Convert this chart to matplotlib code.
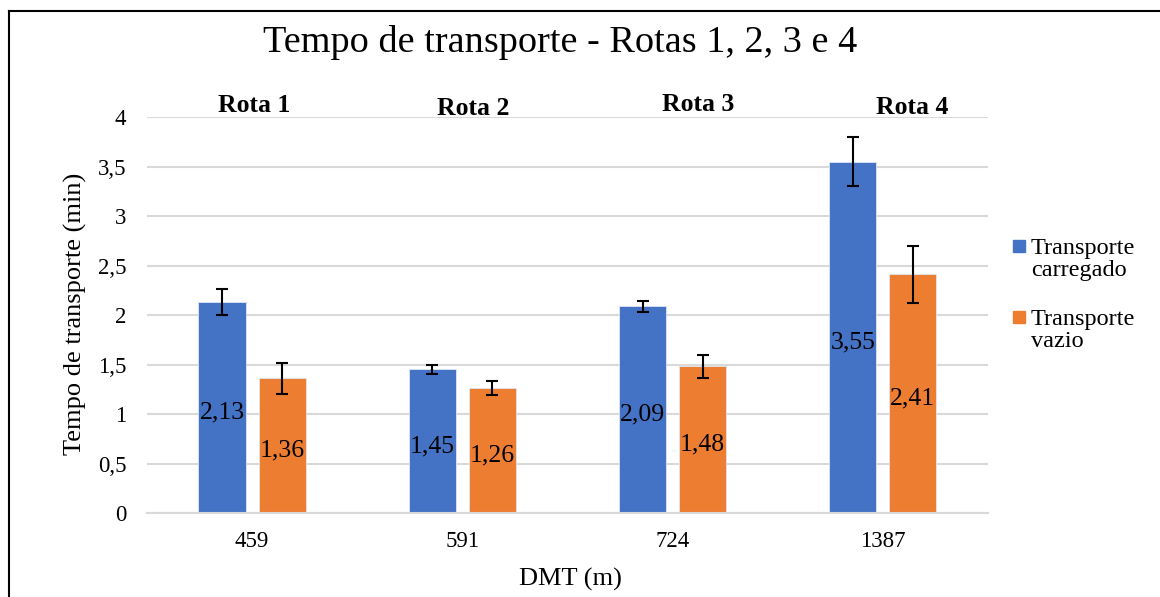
import numpy as np
import matplotlib.pyplot as plt
from matplotlib.lines import Line2D
from matplotlib.patches import Rectangle

plt.rcParams['font.family'] = ['Liberation Serif', 'DejaVu Serif']

# Data
dmt = ['459', '591', '724', '1387']
rotas = ['Rota 1', 'Rota 2', 'Rota 3', 'Rota 4']
carregado = [2.13, 1.45, 2.09, 3.55]
carregado_err = [0.13, 0.045, 0.055, 0.25]
vazio = [1.36, 1.26, 1.48, 2.41]
vazio_err = [0.16, 0.07, 0.12, 0.29]
series = ['Transporte\ncarregado', 'Transporte\nvazio']
colors = ['#4472C4', '#ED7D31']
yticks = [0, 0.5, 1, 1.5, 2, 2.5, 3, 3.5, 4]

fig = plt.figure(figsize=(11.6, 5.97), dpi=100)
ax = fig.add_axes([0.1267, 0.1407, 0.725, 0.6633])

x = np.arange(len(dmt))
w = 0.224
off = 0.143

for vals, errs, col, sgn in [(carregado, carregado_err, colors[0], -1),
                             (vazio, vazio_err, colors[1], 1)]:
    pos = x + sgn * off
    ax.bar(pos, vals, width=w, color=col, edgecolor='#dfe6f3', linewidth=0.6, zorder=2)
    ax.errorbar(pos, vals, yerr=errs, fmt='none', ecolor='black',
                elinewidth=1.5, capsize=4.3, capthick=1.5, zorder=3)
    for p, v in zip(pos, vals):
        ax.text(p, v / 2 - 0.05, f'{v:.2f}'.replace('.', ','), ha='center', va='center',
                fontsize=18.5, zorder=4)

# route labels above each group
rota_x = [0.01, 1.05, 2.12, 3.14]
rota_y = [4.12, 4.09, 4.13, 4.10]
for rx, ry, r in zip(rota_x, rota_y, rotas):
    ax.text(rx, ry, r, ha='center', va='center', fontsize=18.5, fontweight='bold',
            clip_on=False)

ax.set_xlim(-0.5, 3.5)
ax.set_ylim(0, 4)
ax.set_xticks(x)
ax.set_xticklabels(dmt, fontsize=16.5)
ax.set_yticks(yticks)
ax.set_yticklabels([f'{t:g}'.replace('.', ',') for t in yticks], fontsize=16.5)
ax.tick_params(length=0)
ax.tick_params(axis='y', pad=15)
ax.tick_params(axis='x', pad=13)
ax.grid(axis='y', color='#D9D9D9', linewidth=1.5, zorder=0)
for s in ['top', 'right', 'left']:
    ax.spines[s].set_visible(False)
ax.spines['bottom'].set_color('#D9D9D9')
ax.spines['bottom'].set_linewidth(1.5)

fig.text(570 / 1160, 1 - 579 / 597, 'DMT (m)', ha='center', va='center', fontsize=19)
fig.text(75 / 1160, 1 - 314 / 597, 'Tempo de transporte (min)', rotation=90,
         ha='center', va='center', fontsize=19)

fig.text(560 / 1160, 1 - 42 / 597, 'Tempo de transporte - Rotas 1, 2, 3 e 4',
         ha='center', va='center', fontsize=27.5)

# legend
leg_y = [246, 317]
for ly, lab, col in zip(leg_y, series, colors):
    fig.patches.append(Rectangle((1013 / 1160, 1 - (ly + 6) / 597), 12 / 1160, 12 / 597,
                                 transform=fig.transFigure, color=col))
    fig.text(1031 / 1160, 1 - (ly + 13.5) / 597, lab, ha='left', va='center',
             fontsize=17.5, linespacing=1.1)

# outer border (left and top visible)
fig.add_artist(Line2D([8.5 / 1160, 8.5 / 1160], [0, 1 - 10.5 / 597], color='black',
                      linewidth=1.5, transform=fig.transFigure))
fig.add_artist(Line2D([8.5 / 1160, 1], [1 - 10.5 / 597, 1 - 10.5 / 597], color='black',
                      linewidth=1.5, transform=fig.transFigure))

fig.savefig('out.png', dpi=100)
